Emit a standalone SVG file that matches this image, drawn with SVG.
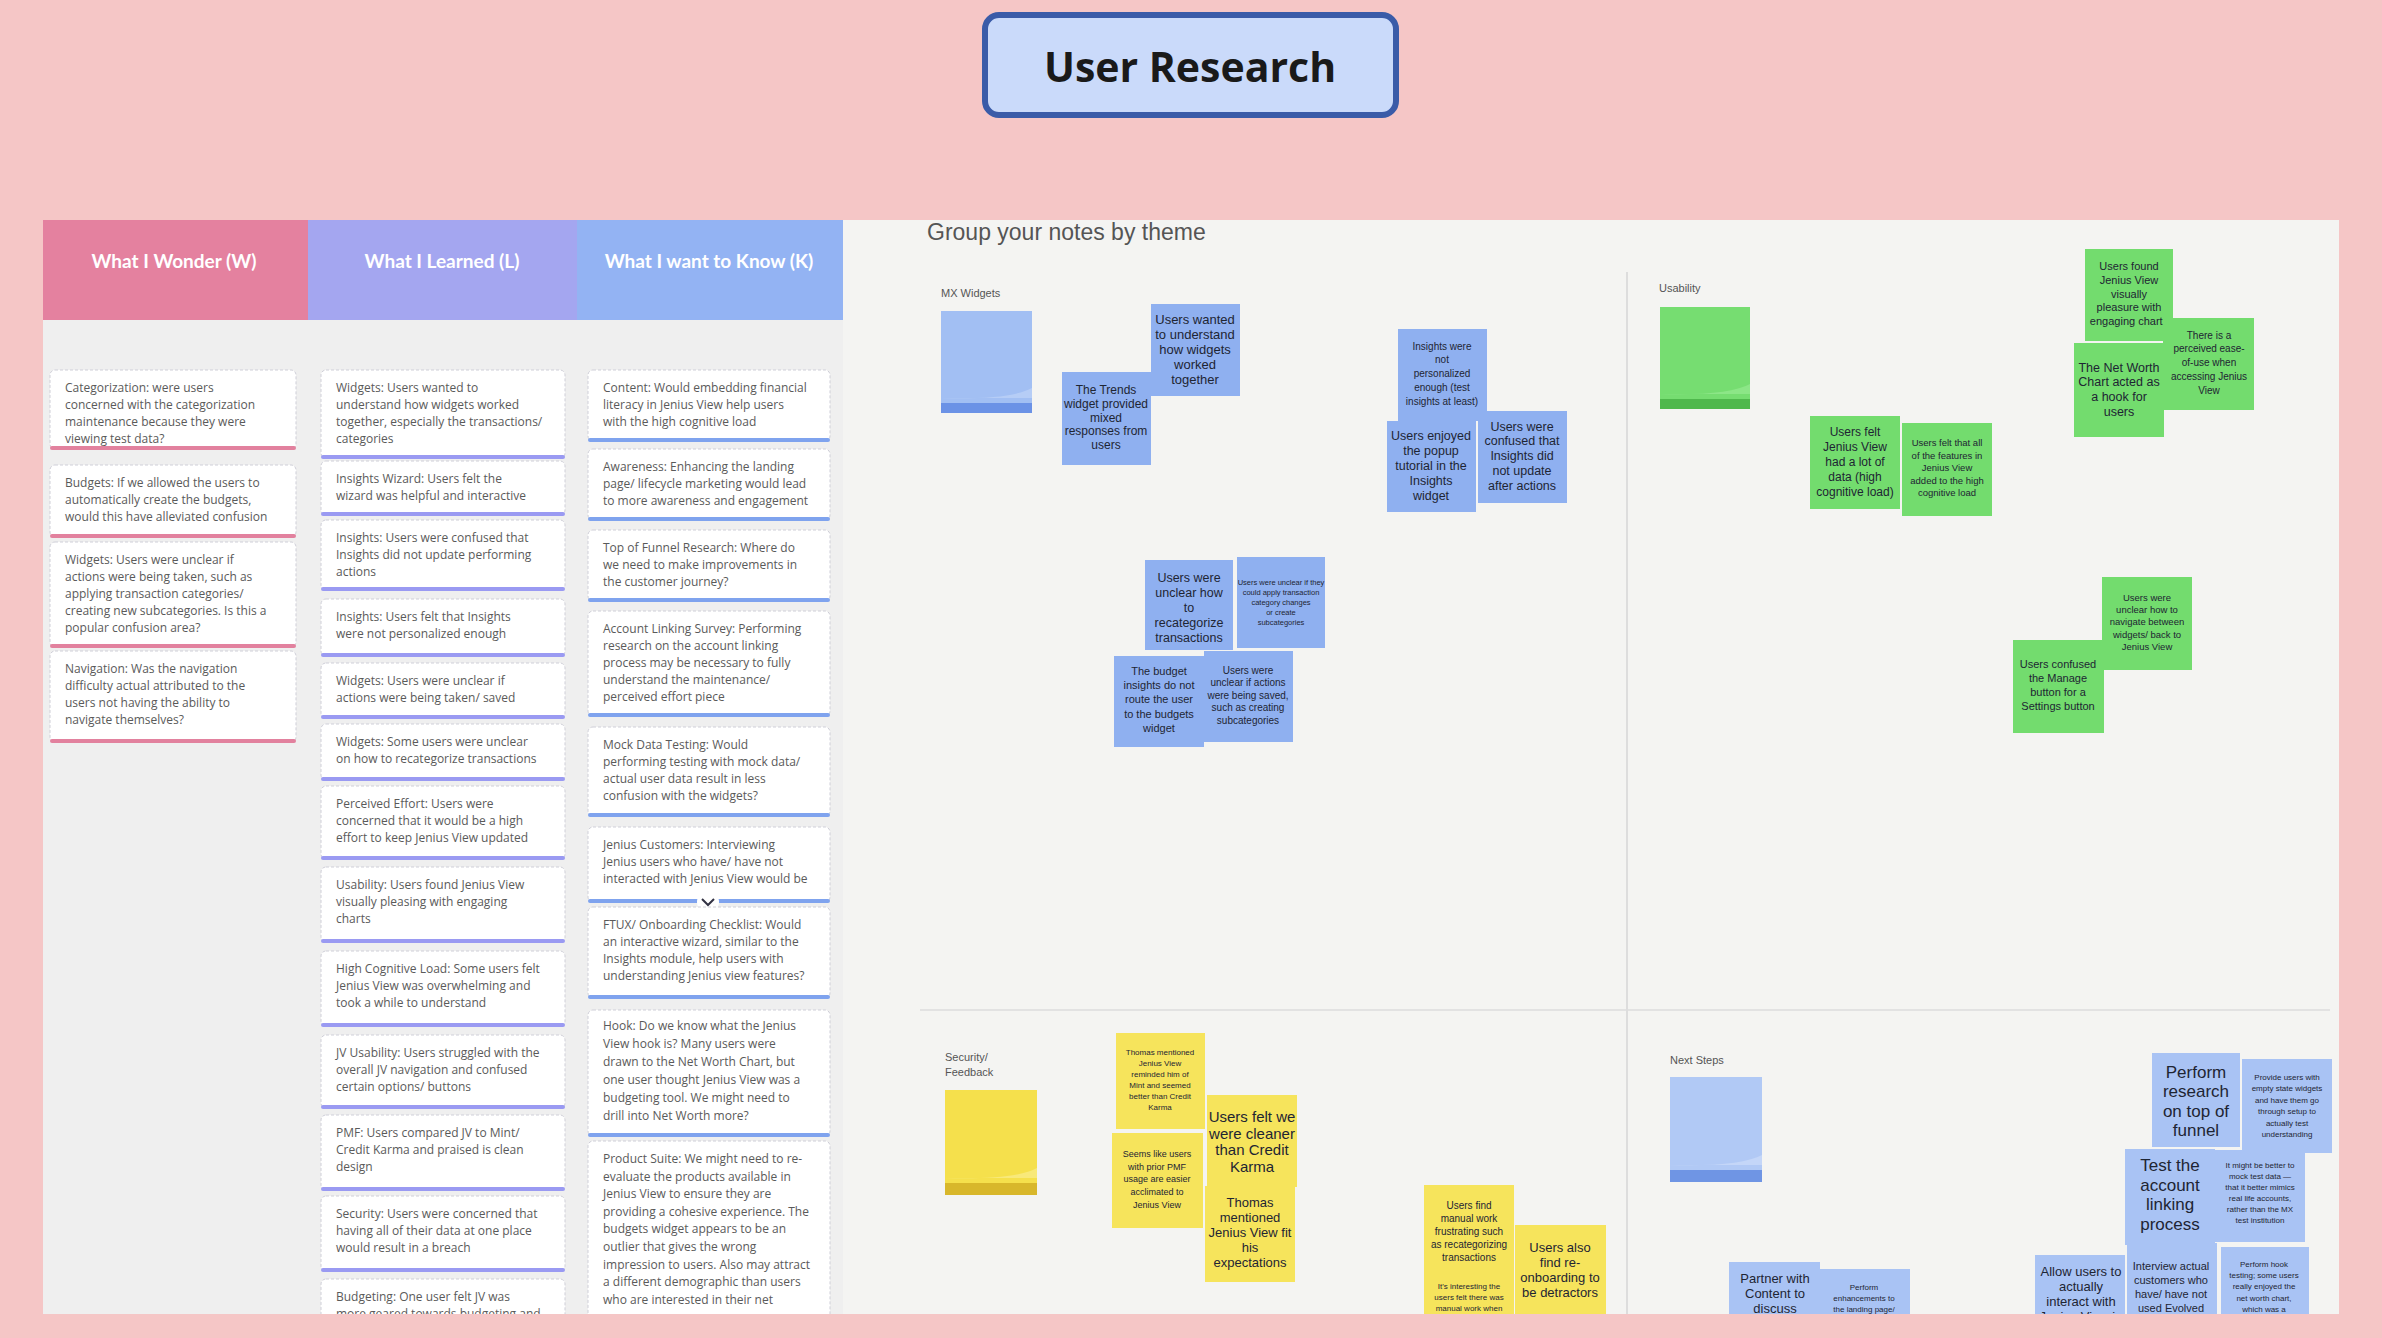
<svg xmlns="http://www.w3.org/2000/svg" width="2382" height="1338" viewBox="0 0 2382 1338">
<defs>
<clipPath id="board"><rect x="43" y="220" width="2296" height="1094"/></clipPath>
<style>
.ct{font-family:"Open Sans","Liberation Sans",sans-serif;font-size:12px;fill:#5a5a5a}
.cb{fill:#ffffff;stroke:#cfcfd8;stroke-width:1;stroke-dasharray:3 2}
.hd{font-family:Lato,"Open Sans",sans-serif;font-weight:700;font-size:19px;fill:#ffffff;text-anchor:middle}
.st{font-family:"Liberation Sans Narrow","Liberation Sans",sans-serif;fill:#1e2533;text-anchor:middle}
.lb{font-family:"Liberation Sans","Open Sans",sans-serif;font-size:11px;fill:#555}
.bl{fill:#8fb0f0}
.nb{fill:#a9c3f4}
.gr{fill:#73dc6e}
.ye{fill:#f6e45c}
.wb{fill:#e2819e}
.lbb{fill:#9a9af2}
.kb{fill:#7fa3ee}
</style>
</defs>
<rect x="0" y="0" width="2382" height="1338" fill="#f5c6c6"/>

<g id="title">
<rect x="985" y="15" width="411" height="100" rx="14" fill="#cadafa" stroke="#3a5ba8" stroke-width="6"/>
<text x="1190" y="82" font-family="'Open Sans','Noto Sans',sans-serif" font-weight="700" font-size="41" fill="#1a1a1a" text-anchor="middle">User Research</text>
</g>

<g id="board-bg" clip-path="url(#board)">
<rect x="43" y="220" width="2296" height="1094" fill="#f4f4f2"/>
<rect x="43" y="320" width="800" height="994" fill="#efefef"/>
<line x1="1627" y1="272" x2="1627" y2="1314" stroke="#d6d6d6" stroke-width="1.5"/>
<line x1="920" y1="1010" x2="2330" y2="1010" stroke="#dcdcdc" stroke-width="1.5"/>
</g>

<g id="headers">
<g id="hdr-w"><rect x="43" y="220" width="265" height="100" fill="#e4819f"/><text class="hd" x="174" y="268">What I Wonder (W)</text></g>
<g id="hdr-l"><rect x="308" y="220" width="269" height="100" fill="#a4a6f0"/><text class="hd" x="442" y="268">What I Learned (L)</text></g>
<g id="hdr-k"><rect x="577" y="220" width="266" height="100" fill="#93b3f3"/><text class="hd" x="709" y="268">What I want to Know (K)</text></g>
</g>

<g id="cards" clip-path="url(#board)">
<g id="w1"><rect class="cb" x="50" y="370" width="246" height="79" rx="5"/><rect class="wb" x="50" y="446" width="246" height="4" rx="2"/><text class="ct" x="65" y="392"><tspan x="65">Categorization: were users</tspan><tspan x="65" dy="17">concerned with the categorization</tspan><tspan x="65" dy="17">maintenance because they were</tspan><tspan x="65" dy="17">viewing test data?</tspan></text></g>
<g id="w2"><rect class="cb" x="50" y="465" width="246" height="72" rx="5"/><rect class="wb" x="50" y="534" width="246" height="4" rx="2"/><text class="ct" x="65" y="487"><tspan x="65">Budgets: If we allowed the users to</tspan><tspan x="65" dy="17">automatically create the budgets,</tspan><tspan x="65" dy="17">would this have alleviated confusion</tspan></text></g>
<g id="w3"><rect class="cb" x="50" y="542" width="246" height="105" rx="5"/><rect class="wb" x="50" y="644" width="246" height="4" rx="2"/><text class="ct" x="65" y="564"><tspan x="65">Widgets: Users were unclear if</tspan><tspan x="65" dy="17">actions were being taken, such as</tspan><tspan x="65" dy="17">applying transaction categories/</tspan><tspan x="65" dy="17">creating new subcategories. Is this a</tspan><tspan x="65" dy="17">popular confusion area?</tspan></text></g>
<g id="w4"><rect class="cb" x="50" y="651" width="246" height="91" rx="5"/><rect class="wb" x="50" y="739" width="246" height="4" rx="2"/><text class="ct" x="65" y="673"><tspan x="65">Navigation: Was the navigation</tspan><tspan x="65" dy="17">difficulty actual attributed to the</tspan><tspan x="65" dy="17">users not having the ability to</tspan><tspan x="65" dy="17">navigate themselves?</tspan></text></g>

<g id="l1"><rect class="cb" x="321" y="370" width="244" height="88" rx="5"/><rect class="lbb" x="321" y="455" width="244" height="4" rx="2"/><text class="ct" x="336" y="392"><tspan x="336">Widgets: Users wanted to</tspan><tspan x="336" dy="17">understand how widgets worked</tspan><tspan x="336" dy="17">together, especially the transactions/</tspan><tspan x="336" dy="17">categories</tspan></text></g>
<g id="l2"><rect class="cb" x="321" y="461" width="244" height="54" rx="5"/><rect class="lbb" x="321" y="512" width="244" height="4" rx="2"/><text class="ct" x="336" y="483"><tspan x="336">Insights Wizard: Users felt the</tspan><tspan x="336" dy="17">wizard was helpful and interactive</tspan></text></g>
<g id="l3"><rect class="cb" x="321" y="520" width="244" height="70" rx="5"/><rect class="lbb" x="321" y="587" width="244" height="4" rx="2"/><text class="ct" x="336" y="542"><tspan x="336">Insights: Users were confused that</tspan><tspan x="336" dy="17">Insights did not update performing</tspan><tspan x="336" dy="17">actions</tspan></text></g>
<g id="l4"><rect class="cb" x="321" y="599" width="244" height="57" rx="5"/><rect class="lbb" x="321" y="653" width="244" height="4" rx="2"/><text class="ct" x="336" y="621"><tspan x="336">Insights: Users felt that Insights</tspan><tspan x="336" dy="17">were not personalized enough</tspan></text></g>
<g id="l5"><rect class="cb" x="321" y="663" width="244" height="55" rx="5"/><rect class="lbb" x="321" y="715" width="244" height="4" rx="2"/><text class="ct" x="336" y="685"><tspan x="336">Widgets: Users were unclear if</tspan><tspan x="336" dy="17">actions were being taken/ saved</tspan></text></g>
<g id="l6"><rect class="cb" x="321" y="724" width="244" height="56" rx="5"/><rect class="lbb" x="321" y="777" width="244" height="4" rx="2"/><text class="ct" x="336" y="746"><tspan x="336">Widgets: Some users were unclear</tspan><tspan x="336" dy="17">on how to recategorize transactions</tspan></text></g>
<g id="l7"><rect class="cb" x="321" y="786" width="244" height="73" rx="5"/><rect class="lbb" x="321" y="856" width="244" height="4" rx="2"/><text class="ct" x="336" y="808"><tspan x="336">Perceived Effort: Users were</tspan><tspan x="336" dy="17">concerned that it would be a high</tspan><tspan x="336" dy="17">effort to keep Jenius View updated</tspan></text></g>
<g id="l8"><rect class="cb" x="321" y="867" width="244" height="75" rx="5"/><rect class="lbb" x="321" y="939" width="244" height="4" rx="2"/><text class="ct" x="336" y="889"><tspan x="336">Usability: Users found Jenius View</tspan><tspan x="336" dy="17">visually pleasing with engaging</tspan><tspan x="336" dy="17">charts</tspan></text></g>
<g id="l9"><rect class="cb" x="321" y="951" width="244" height="75" rx="5"/><rect class="lbb" x="321" y="1023" width="244" height="4" rx="2"/><text class="ct" x="336" y="973"><tspan x="336">High Cognitive Load: Some users felt</tspan><tspan x="336" dy="17">Jenius View was overwhelming and</tspan><tspan x="336" dy="17">took a while to understand</tspan></text></g>
<g id="l10"><rect class="cb" x="321" y="1035" width="244" height="73" rx="5"/><rect class="lbb" x="321" y="1105" width="244" height="4" rx="2"/><text class="ct" x="336" y="1057"><tspan x="336">JV Usability: Users struggled with the</tspan><tspan x="336" dy="17">overall JV navigation and confused</tspan><tspan x="336" dy="17">certain options/ buttons</tspan></text></g>
<g id="l11"><rect class="cb" x="321" y="1115" width="244" height="75" rx="5"/><rect class="lbb" x="321" y="1187" width="244" height="4" rx="2"/><text class="ct" x="336" y="1137"><tspan x="336">PMF: Users compared JV to Mint/</tspan><tspan x="336" dy="17">Credit Karma and praised is clean</tspan><tspan x="336" dy="17">design</tspan></text></g>
<g id="l12"><rect class="cb" x="321" y="1196" width="244" height="75" rx="5"/><rect class="lbb" x="321" y="1268" width="244" height="4" rx="2"/><text class="ct" x="336" y="1218"><tspan x="336">Security: Users were concerned that</tspan><tspan x="336" dy="17">having all of their data at one place</tspan><tspan x="336" dy="17">would result in a breach</tspan></text></g>
<g id="l13"><rect class="cb" x="321" y="1279" width="244" height="75" rx="5"/><text class="ct" x="336" y="1301"><tspan x="336">Budgeting: One user felt JV was</tspan><tspan x="336" dy="17">more geared towards budgeting and</tspan></text></g>

<g id="k1"><rect class="cb" x="588" y="370" width="242" height="71" rx="5"/><rect class="kb" x="588" y="438" width="242" height="4" rx="2"/><text class="ct" x="603" y="392"><tspan x="603">Content: Would embedding financial</tspan><tspan x="603" dy="17">literacy in Jenius View help users</tspan><tspan x="603" dy="17">with the high cognitive load</tspan></text></g>
<g id="k2"><rect class="cb" x="588" y="449" width="242" height="71" rx="5"/><rect class="kb" x="588" y="517" width="242" height="4" rx="2"/><text class="ct" x="603" y="471"><tspan x="603">Awareness: Enhancing the landing</tspan><tspan x="603" dy="17">page/ lifecycle marketing would lead</tspan><tspan x="603" dy="17">to more awareness and engagement</tspan></text></g>
<g id="k3"><rect class="cb" x="588" y="530" width="242" height="71" rx="5"/><rect class="kb" x="588" y="598" width="242" height="4" rx="2"/><text class="ct" x="603" y="552"><tspan x="603">Top of Funnel Research: Where do</tspan><tspan x="603" dy="17">we need to make improvements in</tspan><tspan x="603" dy="17">the customer journey?</tspan></text></g>
<g id="k4"><rect class="cb" x="588" y="611" width="242" height="105" rx="5"/><rect class="kb" x="588" y="713" width="242" height="4" rx="2"/><text class="ct" x="603" y="633"><tspan x="603">Account Linking Survey: Performing</tspan><tspan x="603" dy="17">research on the account linking</tspan><tspan x="603" dy="17">process may be necessary to fully</tspan><tspan x="603" dy="17">understand the maintenance/</tspan><tspan x="603" dy="17">perceived effort piece</tspan></text></g>
<g id="k5"><rect class="cb" x="588" y="727" width="242" height="89" rx="5"/><rect class="kb" x="588" y="813" width="242" height="4" rx="2"/><text class="ct" x="603" y="749"><tspan x="603">Mock Data Testing: Would</tspan><tspan x="603" dy="17">performing testing with mock data/</tspan><tspan x="603" dy="17">actual user data result in less</tspan><tspan x="603" dy="17">confusion with the widgets?</tspan></text></g>
<g id="k6"><rect class="cb" x="588" y="827" width="242" height="75" rx="5"/><rect class="kb" x="588" y="899" width="242" height="4" rx="2"/><text class="ct" x="603" y="849"><tspan x="603">Jenius Customers: Interviewing</tspan><tspan x="603" dy="17">Jenius users who have/ have not</tspan><tspan x="603" dy="17">interacted with Jenius View would be</tspan></text><circle cx="708" cy="902" r="11" fill="#ffffff"/><path d="M702 899 L708 905 L714 899" fill="none" stroke="#334" stroke-width="2"/></g>
<g id="k7"><rect class="cb" x="588" y="907" width="242" height="91" rx="5"/><rect class="kb" x="588" y="995" width="242" height="4" rx="2"/><text class="ct" x="603" y="929"><tspan x="603">FTUX/ Onboarding Checklist: Would</tspan><tspan x="603" dy="17">an interactive wizard, similar to the</tspan><tspan x="603" dy="17">Insights module, help users with</tspan><tspan x="603" dy="17">understanding Jenius view features?</tspan></text></g>
<g id="k8"><rect class="cb" x="588" y="1010" width="242" height="126" rx="5"/><rect class="kb" x="588" y="1133" width="242" height="4" rx="2"/><text class="ct" x="603" y="1030"><tspan x="603">Hook: Do we know what the Jenius</tspan><tspan x="603" dy="18">View hook is? Many users were</tspan><tspan x="603" dy="18">drawn to the Net Worth Chart, but</tspan><tspan x="603" dy="18">one user thought Jenius View was a</tspan><tspan x="603" dy="18">budgeting tool. We might need to</tspan><tspan x="603" dy="18">drill into Net Worth more?</tspan></text></g>
<g id="k9"><rect class="cb" x="588" y="1141" width="242" height="200" rx="5"/><text class="ct" x="603" y="1163"><tspan x="603">Product Suite: We might need to re-</tspan><tspan x="603" dy="17.6">evaluate the products available in</tspan><tspan x="603" dy="17.6">Jenius View to ensure they are</tspan><tspan x="603" dy="17.6">providing a cohesive experience. The</tspan><tspan x="603" dy="17.6">budgets widget appears to be an</tspan><tspan x="603" dy="17.6">outlier that gives the wrong</tspan><tspan x="603" dy="17.6">impression to users. Also may attract</tspan><tspan x="603" dy="17.6">a different demographic than users</tspan><tspan x="603" dy="17.6">who are interested in their net</tspan></text></g>
</g>

<g id="theme-title"><text x="927" y="240" font-family="'Liberation Sans','Open Sans',sans-serif" font-size="23" fill="#555">Group your notes by theme</text></g>

<g id="sec-mx">
<text class="lb" x="941" y="297">MX Widgets</text>
<rect x="941" y="311" width="91" height="102" fill="#a2bff3"/>
<path d="M941 398 L1032 398 L1032 388 Q1010 400 941 398 Z" fill="#b6cdf6"/>
<rect x="941" y="403" width="91" height="10" fill="#6b92e6"/>
</g>
<g id="sec-us">
<text class="lb" x="1659" y="292">Usability</text>
<rect x="1660" y="307" width="90" height="102" fill="#76dd71"/>
<path d="M1660 394 L1750 394 L1750 384 Q1728 396 1660 394 Z" fill="#8ce687"/>
<rect x="1660" y="399" width="90" height="10" fill="#4fb84c"/>
</g>
<g id="sec-sf">
<text class="lb" x="945" y="1061">Security/</text>
<text class="lb" x="945" y="1076">Feedback</text>
<rect x="945" y="1090" width="92" height="105" fill="#f5e04c"/>
<path d="M945 1178 L1037 1178 L1037 1168 Q1015 1180 945 1178 Z" fill="#f8e97a"/>
<rect x="945" y="1183" width="92" height="12" fill="#d8b72b"/>
</g>
<g id="sec-ns">
<text class="lb" x="1670" y="1064">Next Steps</text>
<rect x="1670" y="1077" width="92" height="105" fill="#b1c9f5"/>
<path d="M1670 1165 L1762 1165 L1762 1155 Q1740 1167 1670 1165 Z" fill="#c4d6f8"/>
<rect x="1670" y="1170" width="92" height="12" fill="#6f95e4"/>
</g>

<g id="stickies" clip-path="url(#board)">
<g id="m1"><rect class="bl" x="1151" y="304" width="89" height="92"/><text class="st" font-size="13" y="324"><tspan x="1195">Users wanted</tspan><tspan x="1195" dy="15">to understand</tspan><tspan x="1195" dy="15">how widgets</tspan><tspan x="1195" dy="15">worked</tspan><tspan x="1195" dy="15">together</tspan></text></g>
<g id="m2"><rect class="bl" x="1062" y="372" width="89" height="93"/><text class="st" font-size="12" y="394"><tspan x="1106">The Trends</tspan><tspan x="1106" dy="13.8">widget provided</tspan><tspan x="1106" dy="13.8">mixed</tspan><tspan x="1106" dy="13.8">responses from</tspan><tspan x="1106" dy="13.8">users</tspan></text></g>
<g id="m3"><rect class="bl" x="1398" y="329" width="89" height="92"/><text class="st" font-size="10" y="349.5"><tspan x="1442">Insights were</tspan><tspan x="1442" dy="13.8">not</tspan><tspan x="1442" dy="13.8">personalized</tspan><tspan x="1442" dy="13.8">enough (test</tspan><tspan x="1442" dy="13.8">insights at least)</tspan></text></g>
<g id="m5"><rect class="bl" x="1478" y="411" width="89" height="92"/><text class="st" font-size="12.5" y="430.5"><tspan x="1522">Users were</tspan><tspan x="1522" dy="14.8">confused that</tspan><tspan x="1522" dy="14.8">Insights did</tspan><tspan x="1522" dy="14.8">not update</tspan><tspan x="1522" dy="14.8">after actions</tspan></text></g>
<g id="m4"><rect class="bl" x="1387" y="421" width="89" height="91"/><text class="st" font-size="12.5" y="439.5"><tspan x="1431">Users enjoyed</tspan><tspan x="1431" dy="15">the popup</tspan><tspan x="1431" dy="15">tutorial in the</tspan><tspan x="1431" dy="15">Insights</tspan><tspan x="1431" dy="15">widget</tspan></text></g>
<g id="m6"><rect class="bl" x="1145" y="560" width="88" height="90"/><text class="st" font-size="12.5" y="581.5"><tspan x="1189">Users were</tspan><tspan x="1189" dy="15">unclear how</tspan><tspan x="1189" dy="15">to</tspan><tspan x="1189" dy="15">recategorize</tspan><tspan x="1189" dy="15">transactions</tspan></text></g>
<g id="m7"><rect class="bl" x="1237" y="557" width="88" height="91"/><text class="st" font-size="7.5" y="584.5"><tspan x="1281">Users were unclear if they</tspan><tspan x="1281" dy="10">could apply transaction</tspan><tspan x="1281" dy="10">category changes</tspan><tspan x="1281" dy="10">or create</tspan><tspan x="1281" dy="10">subcategories</tspan></text></g>
<g id="m8"><rect class="bl" x="1114" y="656" width="90" height="91"/><text class="st" font-size="11" y="675"><tspan x="1159">The budget</tspan><tspan x="1159" dy="14.2">insights do not</tspan><tspan x="1159" dy="14.2">route the user</tspan><tspan x="1159" dy="14.2">to the budgets</tspan><tspan x="1159" dy="14.2">widget</tspan></text></g>
<g id="m9"><rect class="bl" x="1204" y="651" width="89" height="91"/><text class="st" font-size="10" y="673.5"><tspan x="1248">Users were</tspan><tspan x="1248" dy="12.5">unclear if actions</tspan><tspan x="1248" dy="12.5">were being saved,</tspan><tspan x="1248" dy="12.5">such as creating</tspan><tspan x="1248" dy="12.5">subcategories</tspan></text></g>

<g id="u1"><rect class="gr" x="2085" y="249" width="88" height="92"/><text class="st" font-size="11" y="270"><tspan x="2129">Users found</tspan><tspan x="2129" dy="13.8">Jenius View</tspan><tspan x="2129" dy="13.8">visually</tspan><tspan x="2129" dy="13.8">pleasure with</tspan><tspan x="2129" dy="13.8">engaging charts</tspan></text></g>
<g id="u2"><rect class="gr" x="2163" y="318" width="91" height="92"/><text class="st" font-size="10" y="338.5"><tspan x="2209">There is a</tspan><tspan x="2209" dy="13.8">perceived ease-</tspan><tspan x="2209" dy="13.8">of-use when</tspan><tspan x="2209" dy="13.8">accessing Jenius</tspan><tspan x="2209" dy="13.8">View</tspan></text></g>
<g id="u3"><rect class="gr" x="2074" y="343" width="90" height="94"/><text class="st" font-size="12.5" y="371.5"><tspan x="2119">The Net Worth</tspan><tspan x="2119" dy="14.7">Chart acted as</tspan><tspan x="2119" dy="14.7">a hook for</tspan><tspan x="2119" dy="14.7">users</tspan></text></g>
<g id="u4"><rect class="gr" x="1810" y="416" width="90" height="93"/><text class="st" font-size="12" y="436"><tspan x="1855">Users felt</tspan><tspan x="1855" dy="15">Jenius View</tspan><tspan x="1855" dy="15">had a lot of</tspan><tspan x="1855" dy="15">data (high</tspan><tspan x="1855" dy="15">cognitive load)</tspan></text></g>
<g id="u5"><rect class="gr" x="1902" y="423" width="90" height="93"/><text class="st" font-size="9.5" y="446"><tspan x="1947">Users felt that all</tspan><tspan x="1947" dy="12.5">of the features in</tspan><tspan x="1947" dy="12.5">Jenius View</tspan><tspan x="1947" dy="12.5">added to the high</tspan><tspan x="1947" dy="12.5">cognitive load</tspan></text></g>
<g id="u6"><rect class="gr" x="2102" y="577" width="90" height="93"/><text class="st" font-size="9.5" y="601"><tspan x="2147">Users were</tspan><tspan x="2147" dy="12.2">unclear how to</tspan><tspan x="2147" dy="12.2">navigate between</tspan><tspan x="2147" dy="12.2">widgets/ back to</tspan><tspan x="2147" dy="12.2">Jenius View</tspan></text></g>
<g id="u7"><rect class="gr" x="2013" y="640" width="91" height="93"/><text class="st" font-size="11" y="668"><tspan x="2058">Users confused</tspan><tspan x="2058" dy="14">the Manage</tspan><tspan x="2058" dy="14">button for a</tspan><tspan x="2058" dy="14">Settings button</tspan></text></g>

<g id="s1"><rect class="ye" x="1116" y="1033" width="89" height="96"/><text class="st" font-size="8" y="1055"><tspan x="1160">Thomas mentioned</tspan><tspan x="1160" dy="11">Jenius View</tspan><tspan x="1160" dy="11">reminded him of</tspan><tspan x="1160" dy="11">Mint and seemed</tspan><tspan x="1160" dy="11">better than Credit</tspan><tspan x="1160" dy="11">Karma</tspan></text></g>
<g id="s3"><rect class="ye" x="1112" y="1133" width="91" height="95"/><text class="st" font-size="9" y="1157"><tspan x="1157">Seems like users</tspan><tspan x="1157" dy="12.7">with prior PMF</tspan><tspan x="1157" dy="12.7">usage are easier</tspan><tspan x="1157" dy="12.7">acclimated to</tspan><tspan x="1157" dy="12.7">Jenius View</tspan></text></g>
<g id="s2"><rect class="ye" x="1207" y="1095" width="90" height="92"/><text class="st" font-size="15" y="1122"><tspan x="1252">Users felt we</tspan><tspan x="1252" dy="16.7">were cleaner</tspan><tspan x="1252" dy="16.7">than Credit</tspan><tspan x="1252" dy="16.7">Karma</tspan></text></g>
<g id="s4"><rect class="ye" x="1205" y="1186" width="90" height="96"/><text class="st" font-size="13" y="1206.5"><tspan x="1250">Thomas</tspan><tspan x="1250" dy="15.2">mentioned</tspan><tspan x="1250" dy="15.2">Jenius View fit</tspan><tspan x="1250" dy="15.2">his</tspan><tspan x="1250" dy="15.2">expectations</tspan></text></g>
<g id="s5"><rect class="ye" x="1424" y="1185" width="90" height="88"/><text class="st" font-size="10" y="1208.5"><tspan x="1469">Users find</tspan><tspan x="1469" dy="13">manual work</tspan><tspan x="1469" dy="13">frustrating such</tspan><tspan x="1469" dy="13">as recategorizing</tspan><tspan x="1469" dy="13">transactions</tspan></text></g>
<g id="s6"><rect class="ye" x="1424" y="1273" width="90" height="60"/><text class="st" font-size="8" y="1289"><tspan x="1469">It's interesting the</tspan><tspan x="1469" dy="11">users felt there was</tspan><tspan x="1469" dy="11">manual work when</tspan></text></g>
<g id="s7"><rect class="ye" x="1515" y="1225" width="91" height="100"/><text class="st" font-size="13" y="1251.5"><tspan x="1560">Users also</tspan><tspan x="1560" dy="15.3">find re-</tspan><tspan x="1560" dy="15.3">onboarding to</tspan><tspan x="1560" dy="15.3">be detractors</tspan></text></g>

<g id="n1"><rect class="nb" x="2152" y="1053" width="88" height="94"/><text class="st" font-size="17" y="1078"><tspan x="2196">Perform</tspan><tspan x="2196" dy="19.3">research</tspan><tspan x="2196" dy="19.3">on top of</tspan><tspan x="2196" dy="19.3">funnel</tspan></text></g>
<g id="n2"><rect class="nb" x="2242" y="1059" width="90" height="94"/><text class="st" font-size="8" y="1080"><tspan x="2287">Provide users with</tspan><tspan x="2287" dy="11.4">empty state widgets</tspan><tspan x="2287" dy="11.4">and have them go</tspan><tspan x="2287" dy="11.4">through setup to</tspan><tspan x="2287" dy="11.4">actually test</tspan><tspan x="2287" dy="11.4">understanding</tspan></text></g>
<g id="n3"><rect class="nb" x="2125" y="1149" width="90" height="96"/><text class="st" font-size="17" y="1171"><tspan x="2170">Test the</tspan><tspan x="2170" dy="19.7">account</tspan><tspan x="2170" dy="19.7">linking</tspan><tspan x="2170" dy="19.7">process</tspan></text></g>
<g id="n4"><rect class="nb" x="2215" y="1150" width="90" height="92"/><text class="st" font-size="8" y="1168"><tspan x="2260">It might be better to</tspan><tspan x="2260" dy="11">mock test data —</tspan><tspan x="2260" dy="11">that it better mimics</tspan><tspan x="2260" dy="11">real life accounts,</tspan><tspan x="2260" dy="11">rather than the MX</tspan><tspan x="2260" dy="11">test institution</tspan></text></g>
<g id="n5"><rect class="nb" x="2035" y="1255" width="90" height="70"/><text class="st" font-size="13" y="1275.5"><tspan x="2081">Allow users to</tspan><tspan x="2081" dy="15">actually</tspan><tspan x="2081" dy="15">interact with</tspan><tspan x="2081" dy="15">Jenius View in</tspan></text></g>
<g id="n6"><rect class="nb" x="2127" y="1243" width="90" height="80"/><text class="st" font-size="11" y="1270"><tspan x="2171">Interview actual</tspan><tspan x="2171" dy="14">customers who</tspan><tspan x="2171" dy="14">have/ have not</tspan><tspan x="2171" dy="14">used Evolved</tspan></text></g>
<g id="n7"><rect class="nb" x="2221" y="1247" width="88" height="80"/><text class="st" font-size="8" y="1267"><tspan x="2264">Perform hook</tspan><tspan x="2264" dy="11.2">testing; some users</tspan><tspan x="2264" dy="11.2">really enjoyed the</tspan><tspan x="2264" dy="11.2">net worth chart,</tspan><tspan x="2264" dy="11.2">which was a</tspan></text></g>
<g id="n8"><rect class="nb" x="1729" y="1262" width="91" height="60"/><text class="st" font-size="13" y="1282.5"><tspan x="1775">Partner with</tspan><tspan x="1775" dy="15">Content to</tspan><tspan x="1775" dy="15">discuss</tspan></text></g>
<g id="n9"><rect class="nb" x="1820" y="1269" width="90" height="60"/><text class="st" font-size="8" y="1290"><tspan x="1864">Perform</tspan><tspan x="1864" dy="11">enhancements to</tspan><tspan x="1864" dy="11">the landing page/</tspan></text></g>
</g>

<g id="connectors"></g>
</svg>
